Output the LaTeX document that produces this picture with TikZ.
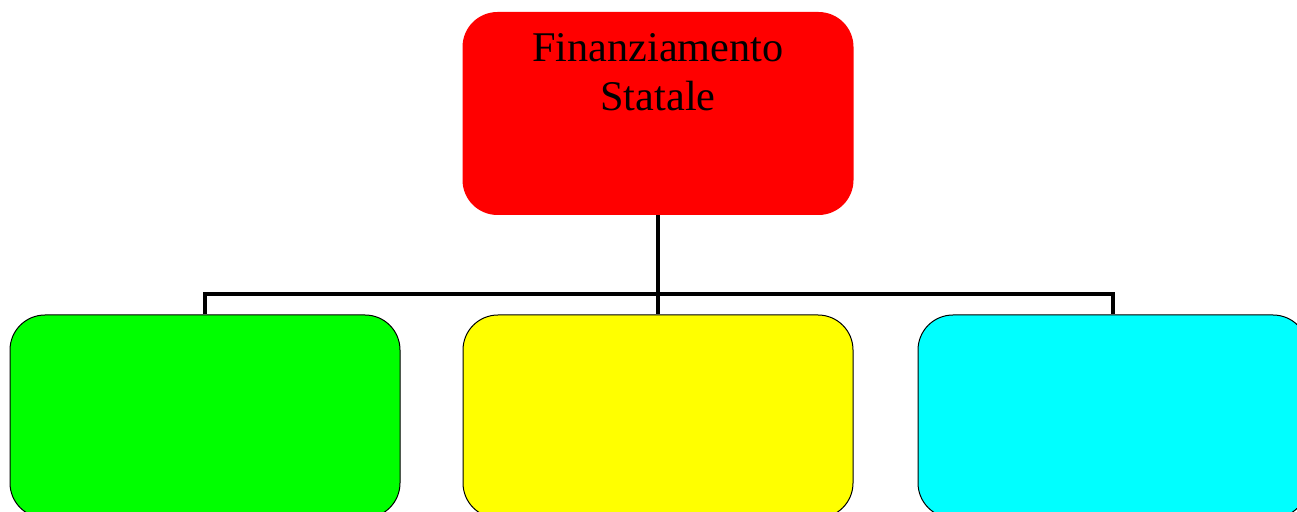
\documentclass[tikz,border=0pt]{standalone}
\usepackage{fontspec}
\setmainfont{Liberation Serif}
\definecolor{cRed}{HTML}{FF0000}
\definecolor{cGreen}{HTML}{00FF00}
\definecolor{cYellow}{HTML}{FFFF00}
\definecolor{cCyan}{HTML}{00FFFF}
\tikzset{
  topbox/.style={rectangle, rounded corners=35pt, minimum width=391pt, minimum height=203pt, inner sep=0pt, fill=cRed, draw=none},
  subbox/.style={rectangle, rounded corners=35pt, minimum width=390pt, minimum height=203pt, inner sep=0pt, draw=black, line width=1pt},
  conn/.style={draw=black, line width=4.5pt},
  titletext/.style={inner sep=0pt, align=center, font=\fontsize{42.3}{49}\selectfont}
}
\begin{document}
\begin{tikzpicture}[x=1pt,y=1pt]
\useasboundingbox (0,0) rectangle (1297,511);
\node[topbox] (top) at (658,397.5) {};
\node[titletext, anchor=north] (title) at (658,477.7) {Finanziamento\\Statale};
\node[subbox, fill=cGreen] (green) at (205,94.5) {};
\node[subbox, fill=cYellow] (yellow) at (658,94.5) {};
\node[subbox, fill=cCyan] (cyan) at (1113,94.5) {};
\coordinate (bus) at (658,217);
\draw[conn] (top.south) -- (yellow.north);
\draw[conn] (green.north) |- (bus) -| (cyan.north);
\end{tikzpicture}
\end{document}
